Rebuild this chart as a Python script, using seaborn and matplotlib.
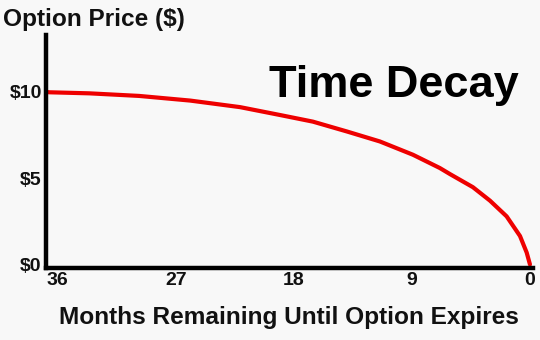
import matplotlib
matplotlib.use("Agg")
import matplotlib.pyplot as plt
import seaborn as sns
import pandas as pd

months = [36.9, 36.6, 33.6, 29.8, 25.9, 22.1, 19.1, 16.55, 13.96, 11.44, 8.92,
          6.87, 6.1, 4.35, 3.05, 1.78, 0.76, 0.25, 0.0]
price = [10.0, 9.98, 9.92, 9.77, 9.50, 9.12, 8.67, 8.28, 7.71, 7.13, 6.36,
         5.59, 5.24, 4.48, 3.70, 2.79, 1.65, 0.69, 0.0]
x_ticks = [36, 27, 18, 9, 0]
y_ticks = [0, 5, 10]
y_labels = ["$0", "$5", "$10"]

sns.set_theme(style="white")
plt.rcParams['font.family'] = ['Liberation Sans', 'DejaVu Sans']

bg = "#f8f8f8"
fig = plt.figure(figsize=(5.4, 3.4), dpi=100, facecolor=bg)
ax = fig.add_axes([0.085, 0.212, 0.902, 0.685], facecolor=bg)

df = pd.DataFrame({"months": months, "price": price})
sns.lineplot(data=df, x="months", y="price", ax=ax, color="#ee0000",
             linewidth=3.0, sort=False)
for ln in ax.lines:
    ln.set_solid_joinstyle("round")
    ln.set_solid_capstyle("round")

ax.set_xlim(36.9, -0.23)
ax.set_ylim(-0.2, 13.3)
ax.set_xticks(x_ticks)
ax.set_xticklabels([str(t) for t in x_ticks], fontsize=14, fontweight="bold")
ax.set_yticks(y_ticks)
ax.set_yticklabels(y_labels, fontsize=14, fontweight="bold")
ax.tick_params(axis="x", length=0, pad=3, colors="#111111")
ax.tick_params(axis="y", length=0, pad=3, colors="#111111")
ax.set_xlabel("")
ax.set_ylabel("")

for s in ["top", "right"]:
    ax.spines[s].set_visible(False)
for s in ["left", "bottom"]:
    ax.spines[s].set_color("black")
    ax.spines[s].set_linewidth(3.2)

fig.text(0.006, 0.9235, "Option Price ($)", fontsize=17.6, fontweight="bold",
         ha="left", va="baseline", color="#111111")
fig.text(0.535, 0.047, "Months Remaining Until Option Expires", fontsize=17.6,
         fontweight="bold", ha="center", va="baseline", color="#111111")
fig.text(0.73, 0.715, "Time Decay", fontsize=32.5, fontweight="bold",
         ha="center", va="baseline", color="black")

fig.savefig("out.png", dpi=100, facecolor=bg)
